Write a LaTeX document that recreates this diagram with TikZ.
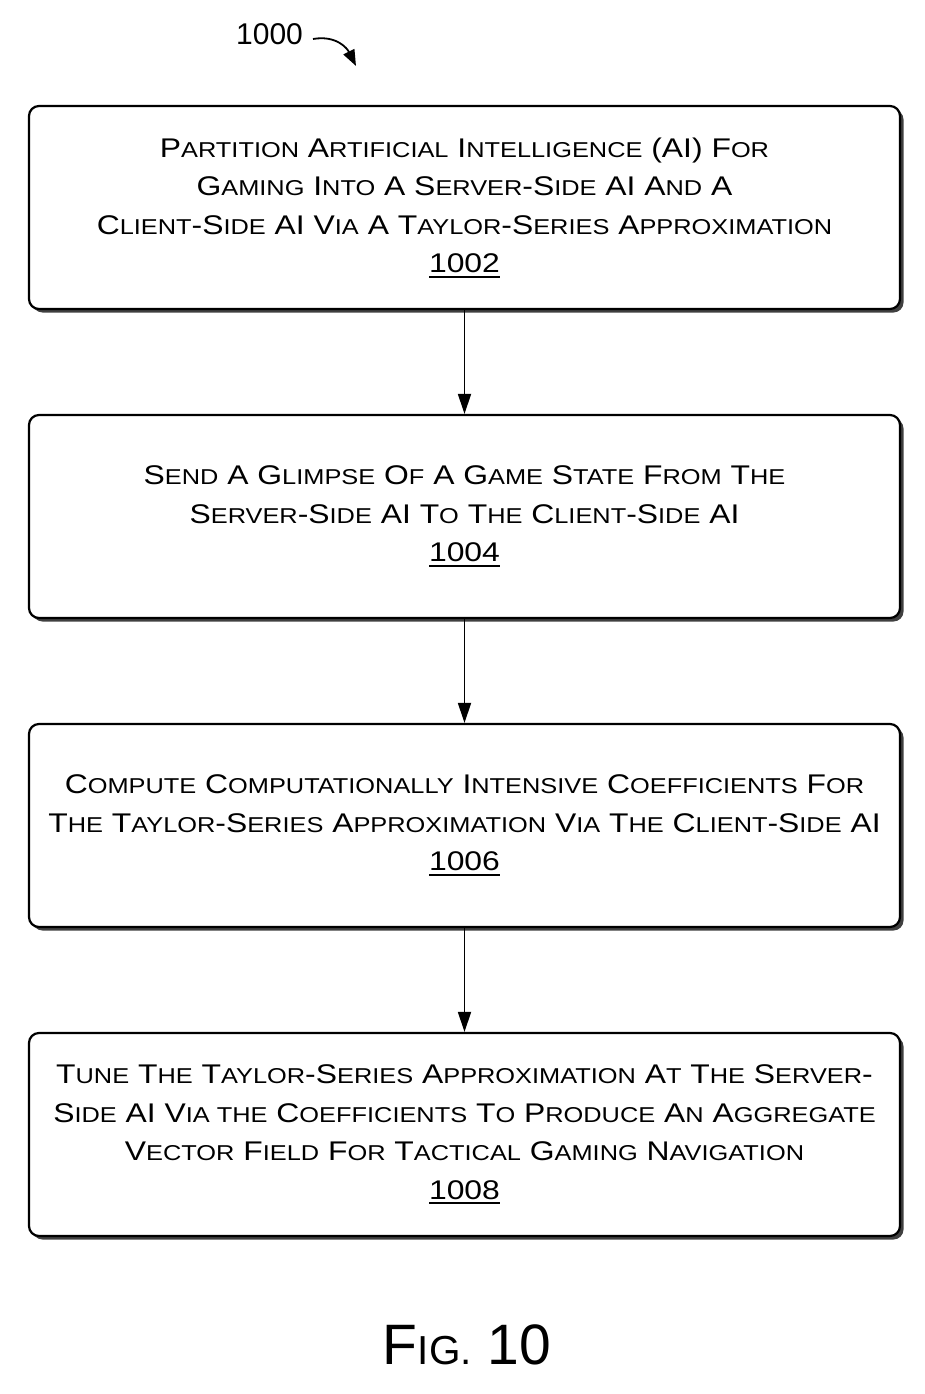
\documentclass[tikz,border=0pt]{standalone}
\usepackage{fontspec}
\setmainfont{Liberation Sans}
\newfontfamily\boxfont[FakeStretch=1.18]{Liberation Sans}
\usetikzlibrary{arrows.meta,shadows}
\newcommand\sm[1]{{\fontsize{21.5}{21.5}\selectfont\MakeUppercase{#1}}}
\newcommand\ulnum[1]{\setbox0\hbox{#1}\rlap{\rule[-5pt]{\wd0}{2pt}}\box0}
\tikzset{
  stepbox/.style={draw=black, line width=2.2pt, rounded corners=10pt, fill=white,
    minimum width=871pt, minimum height=203pt, align=center, inner sep=0pt,
    font=\boxfont\fontsize{27}{38.5}\selectfont,
    drop shadow={shadow xshift=3.5pt, shadow yshift=-3.5pt, fill=black!75, opacity=1}},
  flowarrow/.style={draw=black, line width=1.8pt, -{Triangle[length=20pt,width=13pt]}}
}
\begin{document}
\begin{tikzpicture}[x=1pt,y=-1pt]
\useasboundingbox (0,0) rectangle (925,1394);
\node[anchor=base west, font=\fontsize{30}{30}\selectfont, inner sep=0pt] (lbl) at (236,45) {1000};
\coordinate (lblend) at (356,66);
\draw[line width=1.8pt, -{Triangle[length=16pt,width=12pt]}] (313,39) .. controls (336,35) and (347,48) .. (lblend);

\node[stepbox] (b1) at (464.5,207.5) {P\sm{artition} A\sm{rtificial} I\sm{ntelligence} (AI) F\sm{or}\\
G\sm{aming} I\sm{nto} A S\sm{erver}-S\sm{ide} AI A\sm{nd} A\\
C\sm{lient}-S\sm{ide} AI V\sm{ia} A T\sm{aylor}-S\sm{eries} A\sm{pproximation}\\
\ulnum{1002}};

\node[stepbox] (b2) at (464.5,516.5) {S\sm{end} A G\sm{limpse} O\sm{f} A G\sm{ame} S\sm{tate} F\sm{rom} T\sm{he}\\
S\sm{erver}-S\sm{ide} AI T\sm{o} T\sm{he} C\sm{lient}-S\sm{ide} AI\\
\ulnum{1004}};

\node[stepbox] (b3) at (464.5,825.5) {C\sm{ompute} C\sm{omputationally} I\sm{ntensive} C\sm{oefficients} F\sm{or}\\
T\sm{he} T\sm{aylor}-S\sm{eries} A\sm{pproximation} V\sm{ia} T\sm{he} C\sm{lient}-S\sm{ide} AI\\
\ulnum{1006}};

\node[stepbox] (b4) at (464.5,1134.5) {T\sm{une} T\sm{he} T\sm{aylor}-S\sm{eries} A\sm{pproximation} A\sm{t} T\sm{he} S\sm{erver}-\\
S\sm{ide} AI V\sm{ia the} C\sm{oefficients} T\sm{o} P\sm{roduce} A\sm{n} A\sm{ggregate}\\
V\sm{ector} F\sm{ield} F\sm{or} T\sm{actical} G\sm{aming} N\sm{avigation}\\
\ulnum{1008}};

\draw[flowarrow] (b1.south) -- (b2.north);
\draw[flowarrow] (b2.south) -- (b3.north);
\draw[flowarrow] (b3.south) -- (b4.north);

\node[anchor=base, inner sep=0pt] (fig) at (467,1364) {\fontsize{57}{57}\selectfont F{\fontsize{40.5}{40.5}\selectfont IG.} 10};
\end{tikzpicture}
\end{document}
